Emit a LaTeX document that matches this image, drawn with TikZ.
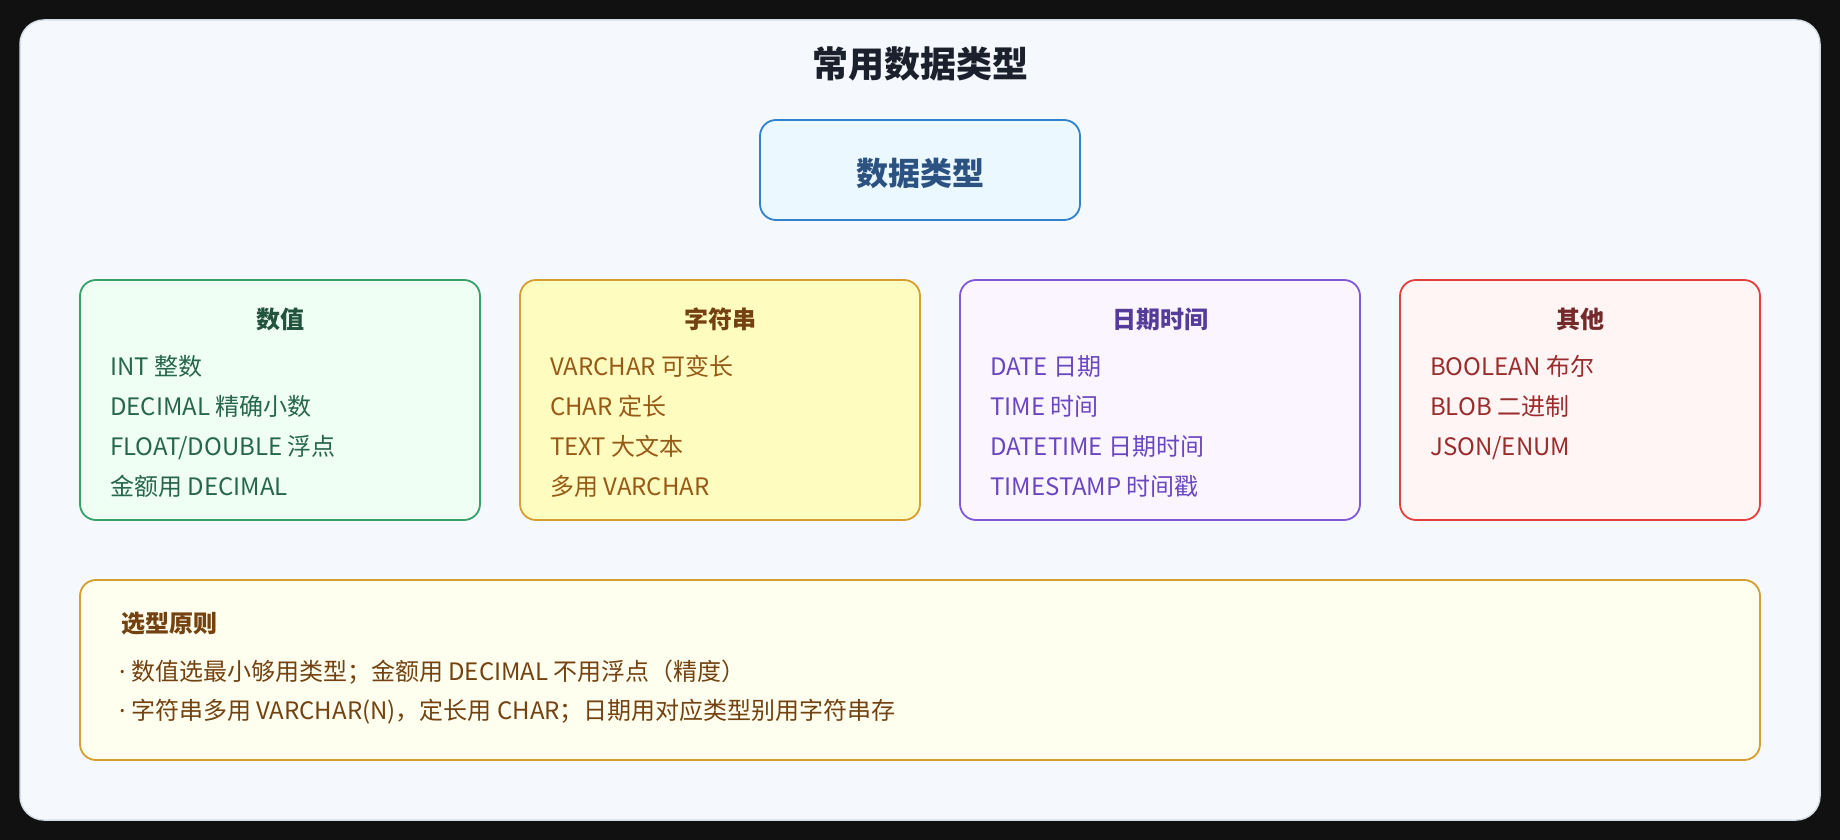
\documentclass[tikz,border=0pt]{standalone}
\usepackage{fontspec}
\setmainfont{Noto Sans CJK SC}
\newfontfamily\latinfont{Noto Sans}
\definecolor{bgdark}{HTML}{111111}
\definecolor{cardfill}{HTML}{F5F9FD}
\definecolor{cardline}{HTML}{D5DDE6}
\definecolor{titlecol}{HTML}{1A202C}
\definecolor{rootfill}{HTML}{EBF8FF}
\definecolor{rootline}{HTML}{3182CE}
\definecolor{roottext}{HTML}{2C5282}
\definecolor{gline}{HTML}{38A169}
\definecolor{gfill}{HTML}{F0FFF4}
\definecolor{gtitle}{HTML}{22543D}
\definecolor{gtext}{HTML}{276749}
\definecolor{yline}{HTML}{D69E2E}
\definecolor{yfill}{HTML}{FEFCBF}
\definecolor{ytitle}{HTML}{744210}
\definecolor{ytext}{HTML}{975A16}
\definecolor{pline}{HTML}{805AD5}
\definecolor{pfill}{HTML}{FAF5FF}
\definecolor{ptitle}{HTML}{553C9A}
\definecolor{ptext}{HTML}{6B46C1}
\definecolor{rline}{HTML}{E53E3E}
\definecolor{rfill}{HTML}{FFF5F5}
\definecolor{rtitle}{HTML}{742A2A}
\definecolor{rtext}{HTML}{9B2C2C}
\definecolor{nfill}{HTML}{FFFFF0}
\definecolor{ntext}{HTML}{744210}
\tikzset{
  boxstyle/.style={draw, line width=1.8pt, rounded corners=16pt, inner sep=0pt},
  cattitle/.style={font=\fontsize{24}{28}\selectfont\bfseries, inner sep=0pt, text height=20pt, text depth=4pt},
  itemtext/.style={font=\fontsize{24}{28}\selectfont, anchor=west, inner sep=0pt, text height=20pt, text depth=4pt},
}
\begin{document}
\begin{tikzpicture}[x=1pt,y=-1pt]
\fill[bgdark] (0,0) rectangle (1840,840);
\useasboundingbox (0,0) rectangle (1840,840);
\filldraw[fill=cardfill, draw=cardline, line width=1.5pt, rounded corners=24pt] (20,20) rectangle (1820,820);
\node[font=\fontsize{36}{40}\selectfont\bfseries, text=titlecol, inner sep=0pt] (title) at (920,64) {常用数据类型};
\node[boxstyle, draw=rootline, fill=rootfill, minimum width=320, minimum height=100] (root) at (920,170) {};
\node[font=\fontsize{32}{36}\selectfont\bfseries, text=roottext, inner sep=0pt] (rootT) at (920,173) {数据类型};
% numeric
\node[boxstyle, draw=gline, fill=gfill, minimum width=400, minimum height=240] (num) at (280,400) {};
\node[cattitle, text=gtitle] (numT) at (280,320) {数值};
\node[itemtext, text=gtext] (num1) at (110,367) {INT 整数};
\node[itemtext, text=gtext] (num2) at (110,407) {DECIMAL 精确小数};
\node[itemtext, text=gtext] (num3) at (110,447) {FLOAT/DOUBLE 浮点};
\node[itemtext, text=gtext] (num4) at (110,487) {金额用 DECIMAL};
% string
\node[boxstyle, draw=yline, fill=yfill, minimum width=400, minimum height=240] (str) at (720,400) {};
\node[cattitle, text=ytitle] (strT) at (720,320) {字符串};
\node[itemtext, text=ytext] (str1) at (550,367) {VARCHAR 可变长};
\node[itemtext, text=ytext] (str2) at (550,407) {CHAR 定长};
\node[itemtext, text=ytext] (str3) at (550,447) {TEXT 大文本};
\node[itemtext, text=ytext] (str4) at (550,487) {多用 VARCHAR};
% date
\node[boxstyle, draw=pline, fill=pfill, minimum width=400, minimum height=240] (dat) at (1160,400) {};
\node[cattitle, text=ptitle] (datT) at (1160,320) {日期时间};
\node[itemtext, text=ptext] (dat1) at (990,367) {DATE 日期};
\node[itemtext, text=ptext] (dat2) at (990,407) {TIME 时间};
\node[itemtext, text=ptext] (dat3) at (990,447) {DATETIME 日期时间};
\node[itemtext, text=ptext] (dat4) at (990,487) {TIMESTAMP 时间戳};
% other
\node[boxstyle, draw=rline, fill=rfill, minimum width=360, minimum height=240] (oth) at (1580,400) {};
\node[cattitle, text=rtitle] (othT) at (1580,320) {其他};
\node[itemtext, text=rtext] (oth1) at (1430,367) {BOOLEAN 布尔};
\node[itemtext, text=rtext] (oth2) at (1430,407) {BLOB 二进制};
\node[itemtext, text=rtext] (oth3) at (1430,447) {JSON/ENUM};
% note
\node[boxstyle, draw=yline, fill=nfill, minimum width=1680, minimum height=180] (note) at (920,670) {};
\node[cattitle, text=ntext, anchor=west] (noteT) at (121,624) {选型原则};
\node[itemtext, text=ntext] (note1) at (119,672) {{\latinfont·} 数值选最小够用类型；金额用 DECIMAL 不用浮点（精度）};
\node[itemtext, text=ntext] (note2) at (119,711) {{\latinfont·} 字符串多用 VARCHAR(N)，定长用 CHAR；日期用对应类型别用字符串存};
\end{tikzpicture}
\end{document}
